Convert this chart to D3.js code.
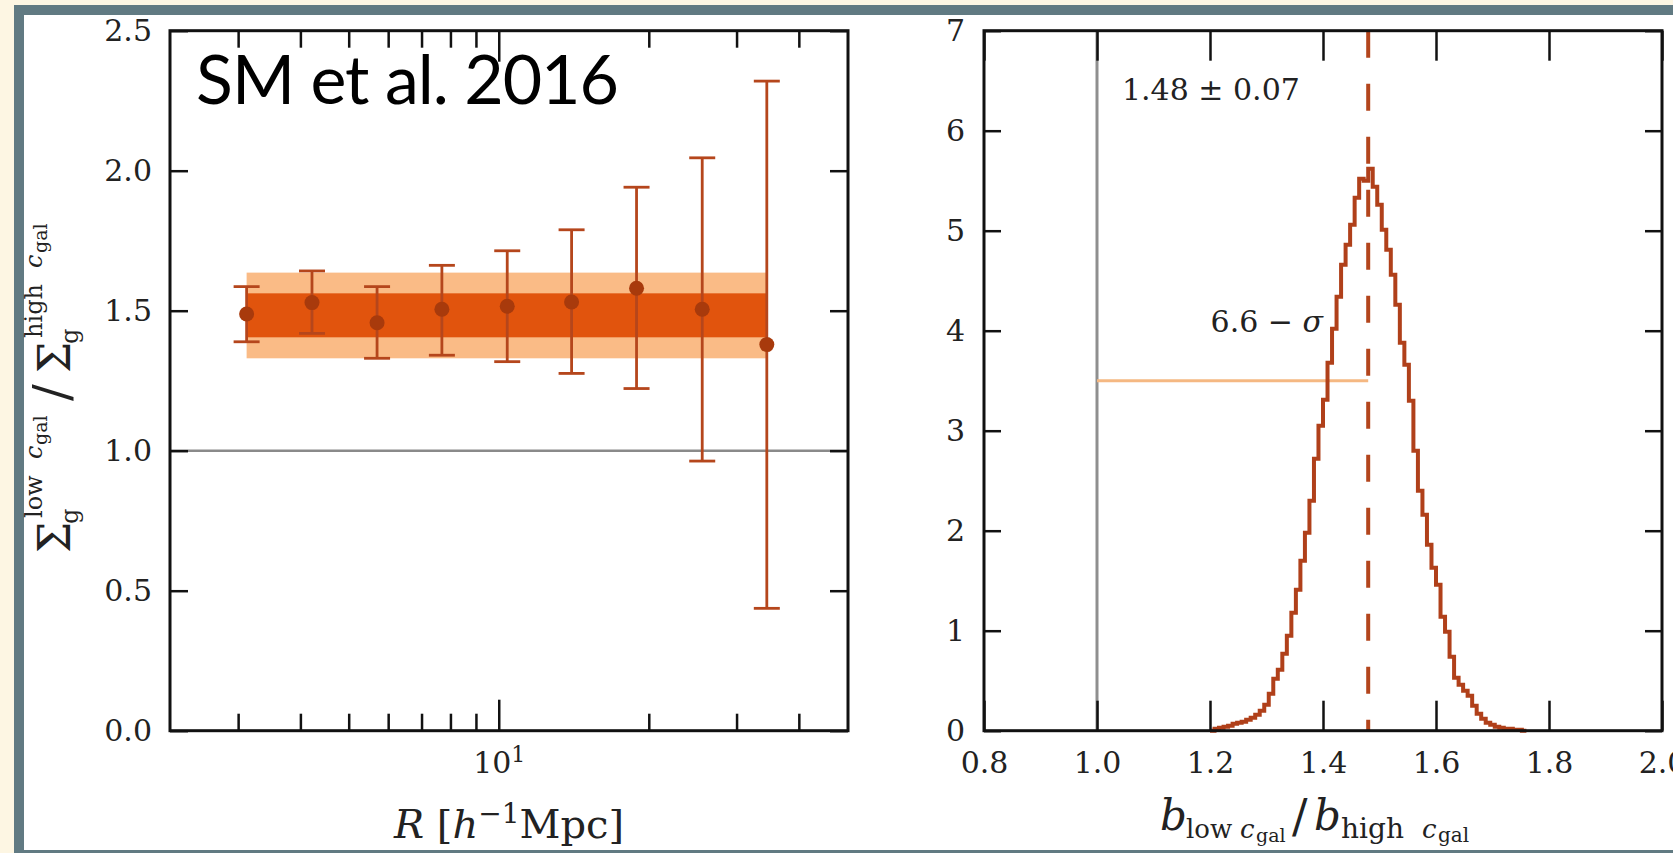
<!DOCTYPE html>
<html>
<head>
<meta charset="utf-8">
<title>Low / high concentration ratio</title>
<style>
    body { margin: 0; background: #fdf6e3; }
    svg { display: block; }
    .tick text { font-family: "DejaVu Serif", serif; font-size: 30px; fill: #222; }
    .tick line { stroke: #111; stroke-width: 2.5px; }
    .frame { fill: none; stroke: #111; stroke-width: 3px; }
    .lbl { font-family: "DejaVu Serif", serif; fill: #222; }
</style>
</head>
<body>
<svg id="chart" width="1673" height="853"></svg>
<script src="https://cdn.jsdelivr.net/npm/d3@7/dist/d3.min.js"></script>
<script>
// left panel: surface density ratio per radial bin
const radii    = [3.12, 4.22, 5.70, 7.69, 10.4, 14.0, 18.9, 25.6, 34.5]
const ratio    = [1.488, 1.529, 1.457, 1.505, 1.516, 1.531, 1.580, 1.505, 1.379]
const errLow   = [1.389, 1.419, 1.330, 1.341, 1.318, 1.276, 1.222, 0.963, 0.437]
const errHigh  = [1.586, 1.642, 1.586, 1.662, 1.714, 1.789, 1.941, 2.046, 2.320]
const bandRange = [3.12, 34.5]
const band1sig = [1.405, 1.562]
const band2sig = [1.330, 1.636]
const refRatio = 1.0
const leftYTicks = [0, 0.5, 1.0, 1.5, 2.0, 2.5]
const leftXMinor = [3, 4, 5, 6, 7, 8, 9, 20, 30, 40]
const leftXMajor = [10]

// right panel: histogram of b_low / b_high
const binStart = 1.20
const binWidth = 0.008
const counts = [0.00, 0.02, 0.03, 0.04, 0.05, 0.07, 0.08, 0.09, 0.11, 0.13,
                0.16, 0.20, 0.26, 0.37, 0.52, 0.61, 0.77, 0.95, 1.18, 1.41,
                1.70, 1.98, 2.30, 2.72, 3.05, 3.31, 3.68, 4.02, 4.34, 4.66,
                4.86, 5.06, 5.33, 5.52, 5.50, 5.62, 5.44, 5.26, 5.01, 4.81,
                4.56, 4.26, 3.88, 3.66, 3.30, 2.80, 2.40, 2.16, 1.86, 1.63,
                1.46, 1.14, 0.99, 0.74, 0.53, 0.46, 0.40, 0.35, 0.25, 0.17,
                0.12, 0.08, 0.06, 0.04, 0.03, 0.02, 0.02, 0.01, 0.01, 0.00]
const bestFit = 1.48
const nullBias = 1.0
const sigmaLevel = 3.5
const rightXTicks = [0.8, 1.0, 1.2, 1.4, 1.6, 1.8, 2.0]
const rightYTicks = [0, 1, 2, 3, 4, 5, 6, 7]

let svg = d3.select("#chart")

// slide background + frame
svg.append("rect").attr("width", 1673).attr("height", 853).attr("fill", "#fdf6e3")
svg.append("rect").attr("x", 14).attr("y", 5).attr("width", 1659).attr("height", 848).attr("fill", "#617a82")
svg.append("rect").attr("x", 24).attr("y", 15).attr("width", 1649).attr("height", 835).attr("fill", "#ffffff")

let plotTop = 30.7, plotBottom = 730.7

// ---------------- left panel ----------------
let xL = d3.scaleLog().domain([2.19, 50.2]).range([170, 848])
let yL = d3.scaleLinear().domain([0, 2.5]).range([plotBottom, plotTop])
let leftPanel = svg.append("g")

leftPanel.append("rect")
    .attr("x", xL(bandRange[0])).attr("width", xL(bandRange[1]) - xL(bandRange[0]))
    .attr("y", yL(band2sig[1])).attr("height", yL(band2sig[0]) - yL(band2sig[1]))
    .attr("fill", "#fabb86")
leftPanel.append("rect")
    .attr("x", xL(bandRange[0])).attr("width", xL(bandRange[1]) - xL(bandRange[0]))
    .attr("y", yL(band1sig[1])).attr("height", yL(band1sig[0]) - yL(band1sig[1]))
    .attr("fill", "#e1540d")

leftPanel.append("line")
    .attr("x1", xL.range()[0]).attr("x2", xL.range()[1])
    .attr("y1", yL(refRatio)).attr("y2", yL(refRatio))
    .attr("stroke", "#8a8a8a").attr("stroke-width", 2.5)

let pts = radii.map((r, i) => ({r: r, v: ratio[i], lo: errLow[i], hi: errHigh[i]}))
let bars = leftPanel.selectAll(".err").data(pts).enter().append("g")
    .attr("stroke", "#b5461c").attr("stroke-width", 2.8)
bars.append("line")
    .attr("x1", d => xL(d.r)).attr("x2", d => xL(d.r))
    .attr("y1", d => yL(d.lo)).attr("y2", d => yL(d.hi))
bars.append("line")
    .attr("x1", d => xL(d.r) - 13).attr("x2", d => xL(d.r) + 13)
    .attr("y1", d => yL(d.lo)).attr("y2", d => yL(d.lo))
bars.append("line")
    .attr("x1", d => xL(d.r) - 13).attr("x2", d => xL(d.r) + 13)
    .attr("y1", d => yL(d.hi)).attr("y2", d => yL(d.hi))
leftPanel.selectAll(".dot").data(pts).enter().append("circle")
    .attr("cx", d => xL(d.r)).attr("cy", d => yL(d.v)).attr("r", 7.5)
    .attr("fill", "#a83a0c")

// axes (ticks point inward)
leftPanel.append("g").attr("transform", `translate(${xL.range()[0]},0)`)
    .call(d3.axisLeft(yL).tickValues(leftYTicks).tickSize(-18).tickPadding(18).tickFormat(d3.format(".1f")))
leftPanel.append("g").attr("transform", `translate(${xL.range()[1]},0)`)
    .call(d3.axisRight(yL).tickValues(leftYTicks).tickSize(-18).tickFormat(""))
leftPanel.append("g").attr("transform", `translate(0,${plotBottom})`)
    .call(d3.axisBottom(xL).tickValues(leftXMinor).tickSize(-17).tickFormat(""))
leftPanel.append("g").attr("transform", `translate(0,${plotTop})`)
    .call(d3.axisTop(xL).tickValues(leftXMinor).tickSize(-17).tickFormat(""))
leftPanel.append("g").attr("transform", `translate(0,${plotTop})`)
    .call(d3.axisTop(xL).tickValues(leftXMajor).tickSize(-31).tickFormat(""))
let major = leftPanel.append("g").attr("transform", `translate(0,${plotBottom})`)
    .call(d3.axisBottom(xL).tickValues(leftXMajor).tickSize(-31).tickFormat(""))
major.selectAll(".tick text").attr("y", 42).attr("dy", null)
    .each(function (d) {
        let t = d3.select(this)
        t.append("tspan").text("10")
        t.append("tspan").attr("font-size", 22).attr("dy", -11).text(Math.round(Math.log10(d)))
    })
svg.selectAll(".domain").remove()
leftPanel.append("rect").attr("class", "frame")
    .attr("x", xL.range()[0]).attr("y", plotTop)
    .attr("width", xL.range()[1] - xL.range()[0]).attr("height", plotBottom - plotTop)

// y label (rotated, laid out piece by piece)
let ylab = svg.append("text").attr("class", "lbl").attr("transform", "translate(70,553) rotate(-90)")
let yParts = [
    {t: "Σ", x: 0, y: 0, s: 44},
    {t: "g", x: 29, y: 8, s: 24},
    {t: "low", x: 35, y: -28, s: 24},
    {t: "c", x: 94, y: -28, s: 24, it: true},
    {t: "gal", x: 108, y: -23, s: 19},
    {t: "/", x: 152, y: -1, s: 50},
    {t: "Σ", x: 180, y: 0, s: 44},
    {t: "g", x: 209, y: 8, s: 24},
    {t: "high", x: 215, y: -28, s: 24},
    {t: "c", x: 285, y: -28, s: 24, it: true},
    {t: "gal", x: 300, y: -23, s: 19}
]
yParts.forEach(p => {
    ylab.append("tspan").attr("x", p.x).attr("y", p.y).attr("font-size", p.s)
        .attr("font-style", p.it ? "italic" : null).text(p.t)
})

// x label
let xlab = svg.append("text").attr("class", "lbl").attr("x", (xL.range()[0] + xL.range()[1]) / 2)
    .attr("y", 838).attr("text-anchor", "middle").attr("font-size", 40)
xlab.append("tspan").attr("font-style", "italic").text("R")
xlab.append("tspan").text(" [")
xlab.append("tspan").attr("font-style", "italic").text("h")
xlab.append("tspan").attr("font-size", 28).attr("dy", -15).text("−1")
xlab.append("tspan").attr("dy", 15).text("Mpc]")

svg.append("text").attr("x", 196).attr("y", 104)
    .attr("font-family", "Lato, sans-serif").attr("font-size", 68).attr("letter-spacing", -1)
    .attr("fill", "#000")
    .text("SM et al. 2016")

// ---------------- right panel ----------------
let xR = d3.scaleLinear().domain([0.8, 2.0]).range([984, 1662])
let yR = d3.scaleLinear().domain([0, 7]).range([plotBottom, plotTop])
let rightPanel = svg.append("g")

rightPanel.append("line")
    .attr("x1", xR(nullBias)).attr("x2", xR(nullBias))
    .attr("y1", yR(0)).attr("y2", yR(7))
    .attr("stroke", "#8f8f8f").attr("stroke-width", 3)
rightPanel.append("line")
    .attr("x1", xR(nullBias)).attr("x2", xR(bestFit))
    .attr("y1", yR(sigmaLevel)).attr("y2", yR(sigmaLevel))
    .attr("stroke", "#f5b882").attr("stroke-width", 3)
rightPanel.append("line")
    .attr("x1", xR(bestFit)).attr("x2", xR(bestFit))
    .attr("y1", yR(7)).attr("y2", yR(0))
    .attr("stroke", "#b3451c").attr("stroke-width", 4)
    .attr("stroke-dasharray", "27 26")

let hist = [{x: binStart, y: 0}]
counts.forEach((c, i) => hist.push({x: binStart + i * binWidth, y: c}))
hist.push({x: binStart + counts.length * binWidth, y: 0})
let step = d3.line().curve(d3.curveStepAfter).x(d => xR(d.x)).y(d => yR(d.y))
rightPanel.append("path").datum(hist).attr("d", step)
    .attr("fill", "none").attr("stroke", "#b0401a").attr("stroke-width", 4)

let rx = rightPanel.append("g").attr("transform", `translate(0,${plotBottom})`)
    .call(d3.axisBottom(xR).tickValues(rightXTicks).tickSize(-30).tickFormat(d3.format(".1f")))
rx.selectAll(".tick text").attr("y", 42).attr("dy", null)
rightPanel.append("g").attr("transform", `translate(0,${plotTop})`)
    .call(d3.axisTop(xR).tickValues(rightXTicks).tickSize(-30).tickFormat(""))
rightPanel.append("g").attr("transform", `translate(${xR.range()[0]},0)`)
    .call(d3.axisLeft(yR).tickValues(rightYTicks).tickSize(-17).tickPadding(19).tickFormat(d3.format("d")))
rightPanel.append("g").attr("transform", `translate(${xR.range()[1]},0)`)
    .call(d3.axisRight(yR).tickValues(rightYTicks).tickSize(-17).tickFormat(""))
svg.selectAll(".domain").remove()
rightPanel.append("rect").attr("class", "frame")
    .attr("x", xR.range()[0]).attr("y", plotTop)
    .attr("width", xR.range()[1] - xR.range()[0]).attr("height", plotBottom - plotTop)

rightPanel.append("text").attr("class", "lbl").attr("x", 1122).attr("y", 100).attr("font-size", 30)
    .text("1.48 ± 0.07")
let sig = rightPanel.append("text").attr("class", "lbl").attr("x", 1323).attr("y", 332)
    .attr("font-size", 30).attr("text-anchor", "end")
sig.append("tspan").text("6.6 − ")
sig.append("tspan").attr("font-style", "italic").text("σ")

let bParts = [
    {t: "b", x: 1160, y: 830, s: 42, it: true},
    {t: "low", x: 1186, y: 838, s: 26},
    {t: "c", x: 1240, y: 838, s: 26, it: true},
    {t: "gal", x: 1256, y: 842, s: 19},
    {t: "/", x: 1292, y: 832, s: 46},
    {t: "b", x: 1314, y: 830, s: 42, it: true},
    {t: "high", x: 1341, y: 838, s: 28},
    {t: "c", x: 1422, y: 838, s: 26, it: true},
    {t: "gal", x: 1438, y: 842, s: 20}
]
let blab = svg.append("text").attr("class", "lbl")
bParts.forEach(p => {
    blab.append("tspan").attr("x", p.x).attr("y", p.y).attr("font-size", p.s)
        .attr("font-style", p.it ? "italic" : null).text(p.t)
})
</script>
</body>
</html>
